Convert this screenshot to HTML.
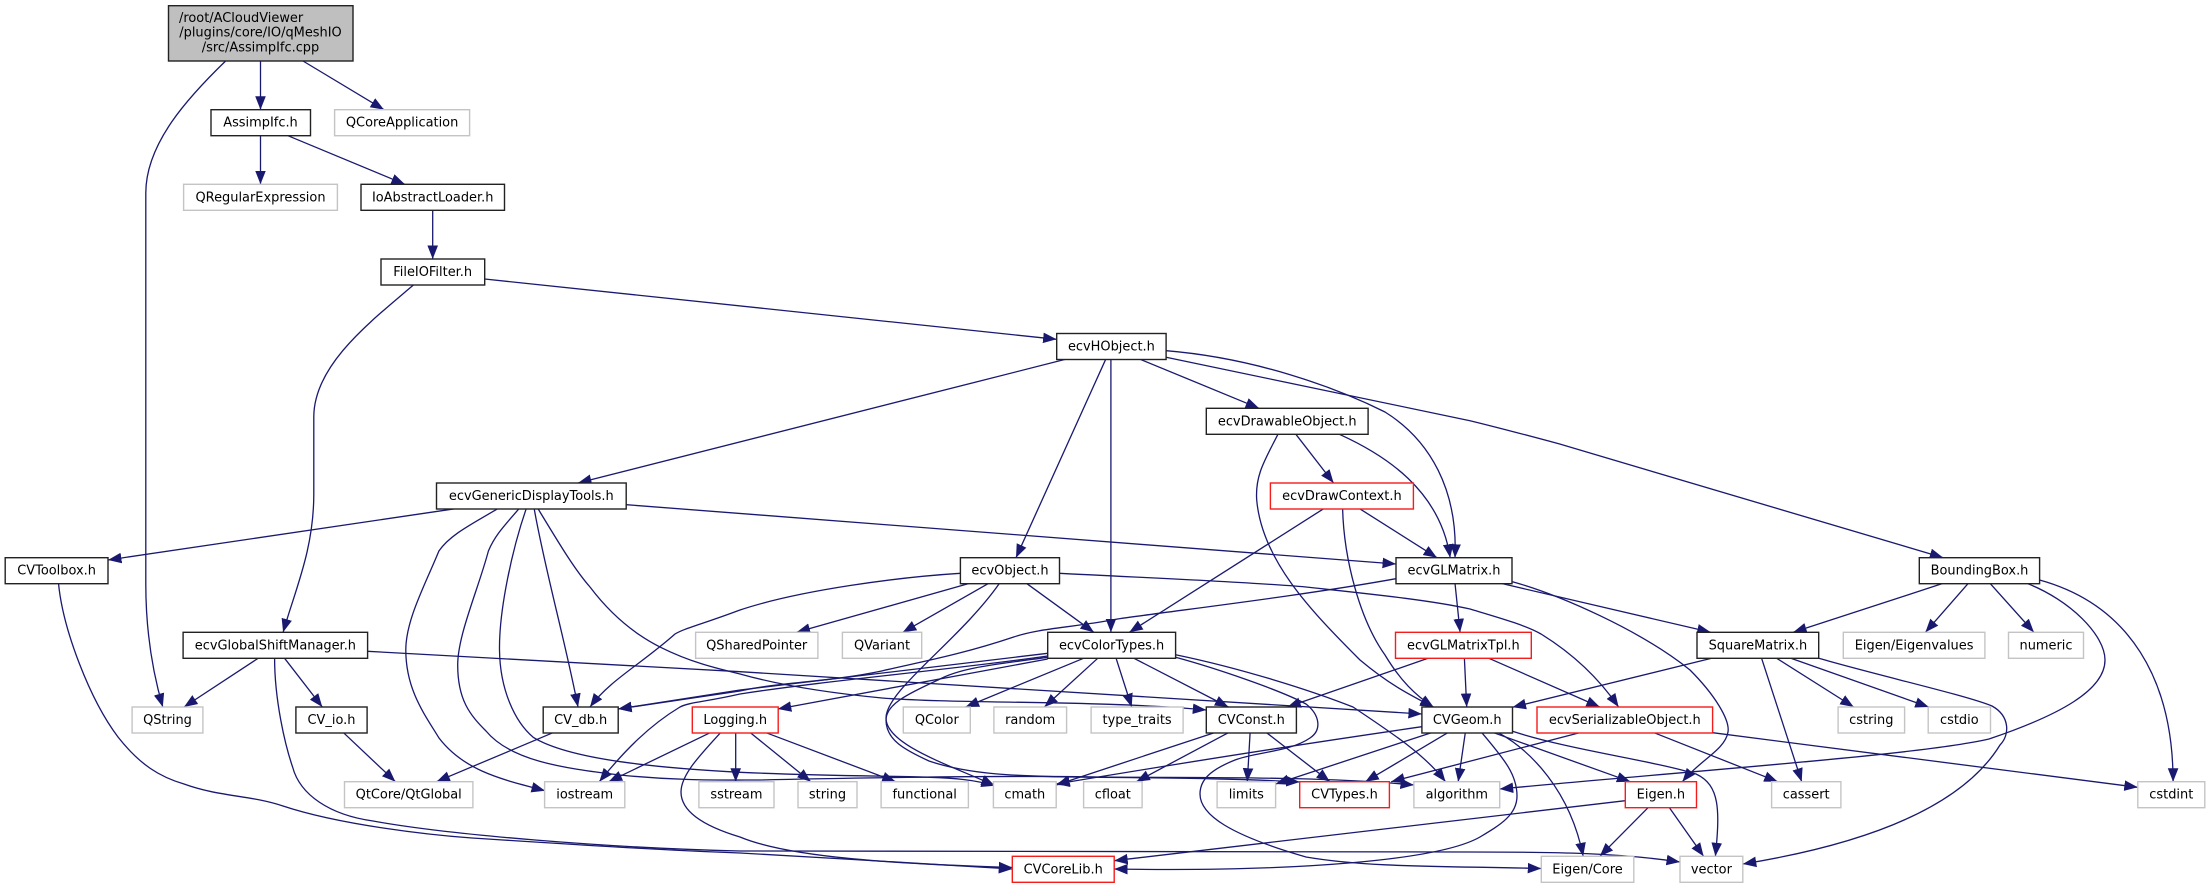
<!DOCTYPE html>
<html><head><meta charset="utf-8"><title>AssimpIfc.cpp include graph</title>
<style>
html,body{margin:0;padding:0;background:#fff;width:2210px;height:888px;overflow:hidden}
svg{display:block;filter:blur(.3px)}
.e path{fill:none;stroke:#191970;stroke-width:1.3}
.n rect{fill:#fff;stroke-width:1.4}
.k rect{stroke:#222}
.g rect{stroke:#c4c4c4}
.r rect{stroke:#f51c1c}
text{font-family:"DejaVu Sans","Liberation Sans",sans-serif;font-size:12.95px;fill:#000;text-anchor:middle}
</style></head><body>
<svg xmlns="http://www.w3.org/2000/svg" width="2210" height="888" viewBox="0 0 2210 888">
<defs><marker id="a" markerUnits="userSpaceOnUse" markerWidth="15" markerHeight="13" refX="13.5" refY="6" orient="auto"><path d="M0,0.7L13.5,6L0,11.3z" fill="#191970"/></marker></defs>
<g class="e" marker-end="url(#a)">
<path d="M225.6,61C188.8,96.7 145.8,143 145.8,193L145.8,584C145.8,630 152,670 162.8,707"/>
<path d="M260.5,61L260.5,109.7"/>
<path d="M303,61L384,109.7"/>
<path d="M260.5,135.7L260.5,184.3"/>
<path d="M287.9,135.7L404.9,184.3"/>
<path d="M432.7,210.3L432.7,259"/>
<path d="M484.6,279L1056.6,339.3"/>
<path d="M413.4,285C370,322 313.8,365 313.8,417L313.8,494C313.8,550 295,590 283.1,632.3"/>
<path d="M1065.6,359.3L578,483"/>
<path d="M1105.7,359.3L1016,557.7"/>
<path d="M1110.9,359.3L1110.9,632.3"/>
<path d="M1140.2,359.3L1259.1,408.3"/>
<path d="M1166.1,350.7C1255,358 1335,387 1385,412C1430,440 1458,490 1455,557.7"/>
<path d="M1166.1,357.3L1470,420.7C1500,428 1530,436 1559.7,444L1943.3,557.7"/>
<path d="M1295.9,434.3L1333.6,483"/>
<path d="M1277.9,434.3C1265,460 1255,475 1256.7,500C1262,560 1310,610 1360,660C1390,685 1410,695 1433.7,707.3"/>
<path d="M1339.4,434.3C1385,455 1440,490 1450.2,557.7"/>
<path d="M1323.7,508.7L1129.3,632.3"/>
<path d="M1342.6,508.7C1344,560 1360,620 1385,655C1400,680 1415,695 1433.7,707.3"/>
<path d="M1359.6,508.7L1437,557.7"/>
<path d="M455.4,508.7L108,560"/>
<path d="M626.2,504.7L1396,564"/>
<path d="M497.8,508.7C470,525 450,535 438.9,551C425,585 405.8,620 405.8,650C405.8,690 425,715 439,738C465,772 505,780 545,790.7"/>
<path d="M519,508.7C505,525 495,535 488.4,551C478,590 457.7,635 457.7,665C457.7,700 470,715 486,731C510,760 560,768 620,775C680,781 720,780 760,780C800,779 1000,775 1100,777C1200,778 1320,776 1413.9,785"/>
<path d="M526.2,508.7C512,550 499,610 499.5,650C500,690 515,722 533.2,737.3C570,760 660,768 740,772.3C820,776 900,776 930,777.3C955,778 975,780 994.8,785.7"/>
<path d="M534.2,508.7C545,570 565,640 578,707"/>
<path d="M538,508.7C560,545 575,570 590,587C615,620 640,637 660.6,647.3C690,662 715,668 740,674C790,688 850,695 882,698C960,704 1100,700 1206.3,710"/>
<path d="M367.6,651.3L740,671.7L1421.9,714"/>
<path d="M258.1,658.3L184,707"/>
<path d="M284.6,658.3L322.3,707"/>
<path d="M274.6,658.3C274.6,700 285,745 292.6,767C300,795 330,815 373,821C450,835 610,848 740,851L1470,852C1560,852 1620,853 1680,862"/>
<path d="M58.5,583.3C63,630 90,700 118,737C140,765 160,777 184,784C220,797 250,795 283,806C340,825 430,835 472,838C580,845 660,850 740,853C830,858 930,864 1012.3,869"/>
<path d="M720.5,732.7C700,755 681,775 681,792C681,810 700,825 740,837C790,858 900,864 1012.3,867.5"/>
<path d="M343.5,732.7L395.4,781.7"/>
<path d="M553,732.7L436.5,781.7"/>
<path d="M710.2,732.7L608.7,781.7"/>
<path d="M735.7,732.7L735.7,781.7"/>
<path d="M750.4,732.7L810.8,781.7"/>
<path d="M766,732.7L895.7,781.7"/>
<path d="M1047.7,653.3L740,690L618.2,709"/>
<path d="M1396,578.7C1300,596 1180,610 1117.5,619C1070,628 1040,628 1013.7,637C960,655 920,662 881.6,671C830,682 780,682 740,691L618.2,709"/>
<path d="M960.4,573.3C900,577 800,590 740,610C700,625 685,628 675,634C640,665 610,680 590,707"/>
<path d="M1047.7,656C950,670 830,680 740,694C705,702 690,702 680,707C650,725 625,750 599.3,781.7"/>
<path d="M1047.7,659L777.8,709"/>
<path d="M1047.7,657.3C990,665 960,668 938,680C905,695 886,705 886,720C886,740 905,750 929,761C970,775 1020,776 1070,777C1150,778 1230,778 1299.7,782"/>
<path d="M1175.6,657.3C1215,668 1280,690 1306,704C1320,715 1322,730 1310,738C1290,752 1255,752 1235,760C1210,770 1200,780 1200,794C1200,815 1230,835 1306,857C1370,868 1450,866 1541.3,868.5"/>
<path d="M1175.6,654.7C1240,668 1310,690 1353,707C1395,735 1425,755 1445.5,781.7"/>
<path d="M1134,658.3L1228.4,707"/>
<path d="M1116.1,658.3L1131.7,707"/>
<path d="M1097.7,658.3L1044.4,707"/>
<path d="M1083.5,658.3L965.6,707"/>
<path d="M999.5,583.3C960,640 886,690 886,718C886,745 950,765 994.8,785.7"/>
<path d="M969.8,583.3L796.6,632.3"/>
<path d="M988.7,583.3L902.8,632.3"/>
<path d="M1026.4,583.3L1093.9,632.3"/>
<path d="M1059.5,573.3C1150,578 1250,582 1306,587C1370,594 1430,600 1470,609C1500,618 1525,625 1541,634C1575,655 1600,680 1618.6,707"/>
<path d="M1455,583.3L1460.1,632.3"/>
<path d="M1500.7,583.3L1710.7,632.3"/>
<path d="M1512.5,581.7C1560,595 1640,630 1690,670C1715,695 1730,720 1728,732C1725,750 1700,760 1682.4,781.7"/>
<path d="M1428,658.3L1287.4,707"/>
<path d="M1464.4,658.3L1466.7,707"/>
<path d="M1488.9,658.3L1599.8,707"/>
<path d="M1214.3,732.7L1056.2,785"/>
<path d="M1228.4,732.7L1136.4,781.7"/>
<path d="M1250.1,732.7L1247.3,781.7"/>
<path d="M1266.6,732.7L1329.9,781.7"/>
<path d="M1421.9,726.7C1330,740 1200,760 1056.2,784"/>
<path d="M1431.3,732.7L1275.6,784"/>
<path d="M1447.8,732.7L1365.3,781.7"/>
<path d="M1465.3,732.7L1458.2,781.7"/>
<path d="M1493.6,732.7L1630.4,781.7"/>
<path d="M1512.5,731.3C1570,750 1650,760 1696,774C1720,785 1720,810 1715.4,856.3"/>
<path d="M1498.3,732.7C1530,750 1570,790 1583.2,856.3"/>
<path d="M1481.8,732.7C1505,760 1517,775 1517,796C1517,815 1500,825 1480,837C1440,860 1300,872 1114.2,869"/>
<path d="M1625.3,800.7L1114.2,860.7"/>
<path d="M1648.4,807.3L1599.8,856.3"/>
<path d="M1669.1,807.3L1703.6,856.3"/>
<path d="M1654,732.7L1777.7,781.7"/>
<path d="M1712.6,732.7L2137.8,787.3"/>
<path d="M1579.5,732.7L1391.2,781.7"/>
<path d="M1711.6,658.3L1512.5,707.3"/>
<path d="M1761.6,658.3L1801.7,781.7"/>
<path d="M1776.7,658.3L1853.7,707"/>
<path d="M1790.9,658.3L1928.7,707"/>
<path d="M1818.7,658.3C1880,676 1965,695 1992,706C2010,716 2010,735 2000,745C1960,810 1860,845 1742.8,864"/>
<path d="M1943.3,583.3L1793.2,632.3"/>
<path d="M1968.3,583.3L1925.4,632.3"/>
<path d="M1990,583.3L2033.9,632.3"/>
<path d="M2039.6,580C2130,605 2173,680 2173.1,781.7"/>
<path d="M2026.8,583.3C2070,600 2105,635 2105,660C2105,690 2060,715 1989,739C1920,755 1700,770 1499.7,789"/>
</g>
<g class="n k">
<rect x="168.5" y="5.7" width="184.5" height="55.3" style="fill:#bfbfbf"/>
<text x="179" y="22" style="text-anchor:start">/root/ACloudViewer</text>
<text x="260.5" y="36.7">/plugins/core/IO/qMeshIO</text>
<text x="260.5" y="51.3">/src/AssimpIfc.cpp</text>
<rect x="211" y="109.7" width="99.5" height="26"/><text x="260.5" y="126.7">AssimpIfc.h</text>
<rect x="361" y="184.3" width="143.5" height="26"/><text x="432.7" y="201.3">IoAbstractLoader.h</text>
<rect x="381" y="259" width="103.7" height="26"/><text x="432.7" y="276">FileIOFilter.h</text>
<rect x="1056.7" y="333.5" width="109.4" height="26"/><text x="1111.4" y="350.5">ecvHObject.h</text>
<rect x="1206.3" y="408.3" width="161.8" height="26"/><text x="1287.2" y="425.3">ecvDrawableObject.h</text>
<rect x="436.5" y="483" width="189.7" height="26"/><text x="531.3" y="500">ecvGenericDisplayTools.h</text>
<rect x="5.2" y="557.7" width="102.8" height="26"/><text x="56.6" y="574.7">CVToolbox.h</text>
<rect x="960.4" y="557.7" width="99.1" height="26"/><text x="1010" y="574.7">ecvObject.h</text>
<rect x="1396" y="557.7" width="116" height="26"/><text x="1454" y="574.7">ecvGLMatrix.h</text>
<rect x="1919.3" y="557.7" width="120.3" height="26"/><text x="1979.5" y="574.7">BoundingBox.h</text>
<rect x="183.1" y="632.3" width="184.5" height="26"/><text x="275.4" y="649.3">ecvGlobalShiftManager.h</text>
<rect x="1047.7" y="632.3" width="127.9" height="26"/><text x="1111.6" y="649.3">ecvColorTypes.h</text>
<rect x="1697" y="632.3" width="121.7" height="26"/><text x="1757.9" y="649.3">SquareMatrix.h</text>
<rect x="295.9" y="707" width="71.2" height="26"/><text x="331.5" y="724">CV_io.h</text>
<rect x="543.2" y="707" width="75" height="26"/><text x="580.7" y="724">CV_db.h</text>
<rect x="1206.3" y="707" width="90.1" height="26"/><text x="1251.3" y="724">CVConst.h</text>
<rect x="1421.9" y="707" width="90.6" height="26"/><text x="1467.2" y="724">CVGeom.h</text>
</g>
<g class="n r">
<rect x="1270.4" y="483" width="143" height="26"/><text x="1341.9" y="500">ecvDrawContext.h</text>
<rect x="1395.5" y="632.3" width="135.8" height="26"/><text x="1463.4" y="649.3">ecvGLMatrixTpl.h</text>
<rect x="692.3" y="707" width="85.9" height="26"/><text x="735.2" y="724">Logging.h</text>
<rect x="1537" y="707" width="175.6" height="26"/><text x="1624.8" y="724">ecvSerializableObject.h</text>
<rect x="1299.7" y="781.7" width="89.7" height="26"/><text x="1344.5" y="798.7">CVTypes.h</text>
<rect x="1625.3" y="781.7" width="71.2" height="26"/><text x="1660.9" y="798.7">Eigen.h</text>
<rect x="1012.3" y="856.3" width="101.9" height="26"/><text x="1063.2" y="873.3">CVCoreLib.h</text>
</g>
<g class="n g">
<rect x="334.6" y="109.7" width="135" height="26"/><text x="402.1" y="126.7">QCoreApplication</text>
<rect x="183.6" y="184.3" width="153.8" height="26"/><text x="260.5" y="201.3">QRegularExpression</text>
<rect x="695.6" y="632.3" width="122.3" height="26"/><text x="756.7" y="649.3">QSharedPointer</text>
<rect x="842.4" y="632.3" width="79.3" height="26"/><text x="882" y="649.3">QVariant</text>
<rect x="1843.3" y="632.3" width="141.6" height="26"/><text x="1914.1" y="649.3">Eigen/Eigenvalues</text>
<rect x="2008.5" y="632.3" width="75" height="26"/><text x="2046" y="649.3">numeric</text>
<rect x="132.1" y="707" width="70.8" height="26"/><text x="167.5" y="724">QString</text>
<rect x="903.3" y="707" width="67" height="26"/><text x="936.8" y="724">QColor</text>
<rect x="993.9" y="707" width="72.7" height="26"/><text x="1030.2" y="724">random</text>
<rect x="1091.1" y="707" width="92" height="26"/><text x="1137.1" y="724">type_traits</text>
<rect x="1838.1" y="707" width="66.5" height="26"/><text x="1871.3" y="724">cstring</text>
<rect x="1928.2" y="707" width="62.3" height="26"/><text x="1959.3" y="724">cstdio</text>
<rect x="344.5" y="781.7" width="128.4" height="26"/><text x="408.7" y="798.7">QtCore/QtGlobal</text>
<rect x="544.6" y="781.7" width="80.2" height="26"/><text x="584.7" y="798.7">iostream</text>
<rect x="698.9" y="781.7" width="75.1" height="26"/><text x="736.4" y="798.7">sstream</text>
<rect x="798" y="781.7" width="59" height="26"/><text x="827.5" y="798.7">string</text>
<rect x="881.1" y="781.7" width="87.3" height="26"/><text x="924.7" y="798.7">functional</text>
<rect x="993.4" y="781.7" width="62.8" height="26"/><text x="1024.8" y="798.7">cmath</text>
<rect x="1083.6" y="781.7" width="58.5" height="26"/><text x="1112.8" y="798.7">cfloat</text>
<rect x="1217.1" y="781.7" width="58.5" height="26"/><text x="1246.3" y="798.7">limits</text>
<rect x="1413.9" y="781.7" width="85.8" height="26"/><text x="1456.8" y="798.7">algorithm</text>
<rect x="1771.6" y="781.7" width="69.3" height="26"/><text x="1806.2" y="798.7">cassert</text>
<rect x="2137.8" y="781.7" width="67" height="26"/><text x="2171.3" y="798.7">cstdint</text>
<rect x="1541.3" y="856.3" width="92.5" height="26"/><text x="1587.5" y="873.3">Eigen/Core</text>
<rect x="1680" y="856.3" width="62.8" height="26"/><text x="1711.4" y="873.3">vector</text>
</g>
</svg>
</body></html>
